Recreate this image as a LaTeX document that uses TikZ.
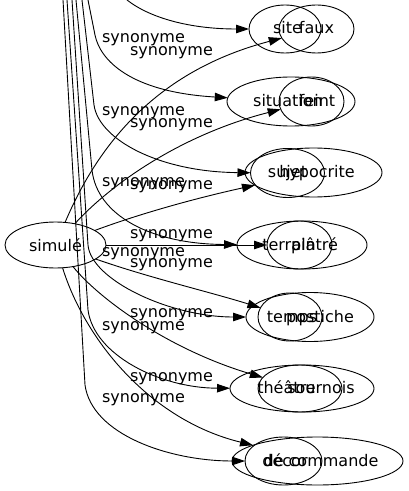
\documentclass[tikz,border=0pt]{standalone}
\usepackage{fontspec}
\setmainfont{DejaVu Sans}
\usetikzlibrary{shapes.geometric,arrows.meta}

\begin{document}
\begin{tikzpicture}[x=1bp,y=-1bp,line width=0.9bp,
    ell/.style={draw,ellipse,inner sep=0pt,outer sep=0pt},
    word/.style={anchor=base,inner sep=0pt,font=\fontsize{16bp}{19bp}\selectfont},
    edge/.style={-{Triangle[length=13bp,width=8.5bp]}}]
    \useasboundingbox (0,0) rectangle (408,491);
    \node[ell,minimum width=101bp,minimum height=46bp,font=\fontsize{16bp}{19bp}\selectfont] (simule) at (55.5,245) {simulé};

    \node[ell,minimum width=72bp,minimum height=48bp] (site) at (285,29) {};
    \node[ell,minimum width=75bp,minimum height=48bp] (faux) at (316.5,29) {};
    \node[ell,minimum width=128bp,minimum height=49bp] (situation) at (291,101.5) {};
    \node[ell,minimum width=65bp,minimum height=49bp] (feint) at (311.5,101.5) {};
    \node[ell,minimum width=74bp,minimum height=49bp] (sujet) at (287.5,173) {};
    \node[ell,minimum width=137bp,minimum height=49bp] (hypocrite) at (313.5,172.5) {};
    \node[ell,minimum width=130bp,minimum height=48bp] (terrain) at (302,245) {};
    \node[ell,minimum width=65bp,minimum height=48bp] (platre) at (299.5,245) {};
    \node[ell,minimum width=128bp,minimum height=49bp] (temps) at (310,317) {};
    \node[ell,minimum width=64bp,minimum height=48bp] (postiche) at (290,317) {};
    \node[ell,minimum width=144bp,minimum height=47bp] (theatre) at (302,388.5) {};
    \node[ell,minimum width=84bp,minimum height=47bp] (sournois) at (300,388.5) {};
    \node[ell,minimum width=77bp,minimum height=48bp] (decor) at (283.5,461) {};
    \node[ell,minimum width=171bp,minimum height=48bp] (decommande) at (317.5,461) {};

    \node[word] (siteW) at (287.5,34) {site};
    \node[word] (fauxW) at (316.5,34) {faux};
    \node[word] (situationW) at (288,106.5) {situation};
    \node[word] (feintW) at (317,106.5) {feint};
    \node[word] (sujetW) at (287.5,178) {sujet};
    \node[word] (hypocriteW) at (317,178) {hypocrite};
    \node[word] (terrainW) at (289,250) {terrain};
    \node[word] (platreW) at (314.5,250) {plâtré};
    \node[word] (tempsW) at (292,322) {temps};
    \node[word] (posticheW) at (320,322) {postiche};
    \node[word] (theatreW) at (286.5,393.5) {théâtre};
    \node[word] (sournoisW) at (321,393.5) {sournois};
    \node[word] (decorW) at (285,466) {décor};
    \node[word] (decommandeW) at (321,466) {de commande};

    \draw[edge] (simule) .. controls (100,140) and (160,70) .. (faux);
    \draw[edge] (simule) .. controls (110,185) and (180,135) .. (feint);
    \draw[edge] (simule) .. controls (150,210) and (210,195) .. (hypocrite);
    \draw[edge] (simule) -- (platre);
    \draw[edge] (simule) .. controls (150,278) and (210,292) .. (postiche);
    \draw[edge] (simule) .. controls (100,300) and (170,350) .. (sournois);
    \draw[edge] (simule) .. controls (85,340) and (150,420) .. (decommande);

    \coordinate (top1) at (127,0);
    \coordinate (top2) at (88,0);
    \coordinate (top3) at (82,0);
    \coordinate (top4) at (76,0);
    \coordinate (top5) at (72,0);
    \coordinate (top6) at (67,0);
    \coordinate (top7) at (63,0);
    \draw[edge] (top1) .. controls (150,18) and (190,29) .. (site);
    \draw[edge] (top2) -- (95,35) .. controls (100,60) and (130,92) .. (situation);
    \draw[edge] (top3) -- (94,105) .. controls (99,140) and (160,172) .. (sujet);
    \draw[edge] (top4) -- (92,170) .. controls (97,215) and (150,244) .. (terrain);
    \draw[edge] (top5) -- (88,245) .. controls (91,280) and (170,317) .. (temps);
    \draw[edge] (top6) -- (88,310) .. controls (94,355) and (160,388) .. (theatre);
    \draw[edge] (top7) -- (85,385) .. controls (92,435) and (170,461) .. (decor);

    \foreach \y [count=\i] in {42.7,116,187,256,330,402}
        \node[word] (synA\i) at (143.5,\y) {synonyme};
    \foreach \y [count=\i] in {56,128,190,238,267,317,381}
        \node[word] (synB\i) at (171.5,\y) {synonyme};
\end{tikzpicture}
\end{document}
